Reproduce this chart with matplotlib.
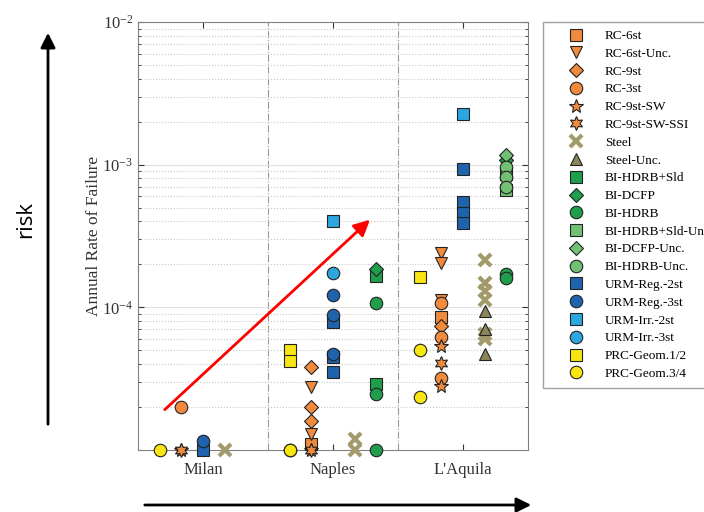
import matplotlib.pyplot as plt
from matplotlib.patches import FancyArrowPatch

plt.rcParams['font.family'] = ['Liberation Serif', 'DejaVu Serif']
plt.rcParams['mathtext.fontset'] = 'custom'
plt.rcParams['mathtext.rm'] = 'Liberation Serif'

cities = ['Milan', 'Naples', "L'Aquila"]

# failure rates, one list per city (Milan, Naples, L'Aquila)
rc_6st = [[], [1.1e-5], [8.5e-5]]
rc_6st_unc = [[], [2.75e-5, 1.3e-5], [2.4e-4, 2.04e-4, 1.12e-4]]
rc_9st = [[], [3.8e-5, 2.0e-5, 1.6e-5], [7.4e-5]]
rc_3st = [[2.0e-5], [], [1.07e-4, 6.2e-5, 3.2e-5]]
rc_9st_sw = [[1.0e-5], [1.0e-5], [5.4e-5, 2.8e-5]]
rc_9st_sw_ssi = [[1.0e-5], [1.0e-5], [4.1e-5]]
steel = [[1.0e-5], [1.2e-5, 1.0e-5], [2.15e-4, 1.48e-4, 1.3e-4, 1.12e-4, 6.5e-5, 6.0e-5]]
steel_unc = [[], [], [9.5e-5, 7.1e-5, 4.7e-5]]
bi_hdrb_sld = [[], [1.65e-4, 2.9e-5], []]
bi_dcfp = [[], [1.85e-4], [1.08e-3]]
bi_hdrb = [[], [1.07e-4, 2.45e-5, 1.0e-5], [1.7e-4, 1.6e-4]]
bi_hdrb_sld_unc = [[], [], [8.6e-4, 6.6e-4]]
bi_dcfp_unc = [[], [], [1.17e-3]]
bi_hdrb_unc = [[], [], [9.7e-4, 8.2e-4, 7.0e-4]]
urm_reg_2st = [[1.0e-5], [7.9e-5, 4.5e-5, 3.55e-5], [9.3e-4, 5.5e-4, 4.6e-4, 3.9e-4]]
urm_reg_3st = [[1.15e-5], [1.22e-4, 8.8e-5, 4.7e-5], []]
urm_irr_2st = [[], [4.0e-4], [2.25e-3]]
urm_irr_3st = [[], [1.74e-4], []]
prc_12 = [[], [5.0e-5, 4.2e-5], [1.63e-4]]
prc_34 = [[1.0e-5], [1.0e-5, 1.0e-5], [5.0e-5, 2.35e-5]]

orange = '#f08a3c'
khaki = '#a39a6c'
khaki_dk = '#8c855c'
green = '#1f9e4b'
green_lt = '#72c074'
blue = '#1f63ad'
blue_lt = '#2ba6df'
yellow = '#f7e612'

# label, data, marker, size, color, x offset within the city
series = [
    ('RC-6st', rc_6st, 's', 8, orange, -1/6),
    ('RC-6st-Unc.', rc_6st_unc, 'v', 9, orange, -1/6),
    ('RC-9st', rc_9st, 'D', 7, orange, -1/6),
    ('RC-3st', rc_3st, 'o', 9, orange, -1/6),
    ('RC-9st-SW', rc_9st_sw, '*', 10, orange, -1/6),
    ('RC-9st-SW-SSI', rc_9st_sw_ssi, (6, 1, 0), 10, orange, -1/6),
    ('Steel', steel, 'x', 9, khaki, 1/6),
    ('Steel-Unc.', steel_unc, '^', 9, khaki_dk, 1/6),
    ('BI-HDRB+Sld', bi_hdrb_sld, 's', 8, green, 1/3),
    ('BI-DCFP', bi_dcfp, 'D', 7, green, 1/3),
    ('BI-HDRB', bi_hdrb, 'o', 9, green, 1/3),
    ('BI-HDRB+Sld-Unc', bi_hdrb_sld_unc, 's', 8, green_lt, 1/3),
    ('BI-DCFP-Unc.', bi_dcfp_unc, 'D', 7, green_lt, 1/3),
    ('BI-HDRB-Unc.', bi_hdrb_unc, 'o', 9, green_lt, 1/3),
    ('URM-Reg.-2st', urm_reg_2st, 's', 8, blue, 0),
    ('URM-Reg.-3st', urm_reg_3st, 'o', 9, blue, 0),
    ('URM-Irr.-2st', urm_irr_2st, 's', 8, blue_lt, 0),
    ('URM-Irr.-3st', urm_irr_3st, 'o', 9, blue_lt, 0),
    ('PRC-Geom.1/2', prc_12, 's', 8, yellow, -1/3),
    ('PRC-Geom.3/4', prc_34, 'o', 9, yellow, -1/3),
]

fig = plt.figure(figsize=(7.04, 5.12), dpi=100)
ax = fig.add_axes([138/704, 62/512, 390/704, 428/512])

handles = []
for label, data, mk, ms, col, off in series:
    xs = [i + 1 + off for i, vals in enumerate(data) for v in vals]
    ys = [v for vals in data for v in vals]
    if mk == 'x':
        h, = ax.plot(xs, ys, ls='none', marker='x', ms=ms, mew=3, color=col,
                     clip_on=False, label=label, zorder=3)
    else:
        h, = ax.plot(xs, ys, ls='none', marker=mk, ms=ms, mfc=col, mec='#222222',
                     mew=0.8, clip_on=False, label=label, zorder=3)
    handles.append(h)

ax.set_yscale('log')
ax.set_ylim(1e-5, 1e-2)
ax.set_xlim(0.5, 3.5)
ax.set_yticks([1e-4, 1e-3, 1e-2])
ax.set_xticks([1, 2, 3])
ax.set_xticklabels(cities)
ax.tick_params(which='both', direction='in', top=True, right=True,
               labelsize=12, colors='#333333')
ax.tick_params(which='major', length=4)
ax.tick_params(which='minor', length=2)
ax.tick_params(axis='x', pad=9)
ax.grid(which='major', axis='y', color='#e2e2e2', lw=0.8)
ax.grid(which='minor', axis='y', color='#c8c8c8', lw=0.8, ls=':')
for xv in [1.5, 2.5]:
    ax.axvline(xv, color='#999999', lw=0.8, ls='-.', zorder=1)
for s in ax.spines.values():
    s.set_color('#808080')
ax.set_ylabel('Annual Rate of Failure', fontsize=12.5, color='#333333', labelpad=0)

# red trend arrow
ax.add_patch(FancyArrowPatch((0.69, 1.86e-5), (2.30, 4.24e-4), arrowstyle='-|>',
                             mutation_scale=24, color='red', lw=2, zorder=4))

fig.legend(handles=handles, loc='upper left', bbox_to_anchor=(543/704, 1 - 22/512),
           fontsize=9.5, frameon=True, fancybox=False, edgecolor='#888888',
           borderpad=0.6, handlelength=3.8, handletextpad=0.3, labelspacing=0.42,
           borderaxespad=0)

# outer risk / hazard arrows
fig.add_artist(FancyArrowPatch((48/704, 1 - 427/512), (48/704, 1 - 30/512),
                               transform=fig.transFigure, arrowstyle='-|>',
                               mutation_scale=22, color='black', lw=2))
fig.text(26/704, 1 - 220/512, 'risk', rotation=90, ha='center', va='center',
         fontsize=16, family=['Open Sans', 'DejaVu Sans'])
fig.add_artist(FancyArrowPatch((142/704, 1 - 505/512), (534/704, 1 - 505/512),
                               transform=fig.transFigure, arrowstyle='-|>',
                               mutation_scale=22, color='black', lw=2))

fig.savefig('out.png', dpi=100)
